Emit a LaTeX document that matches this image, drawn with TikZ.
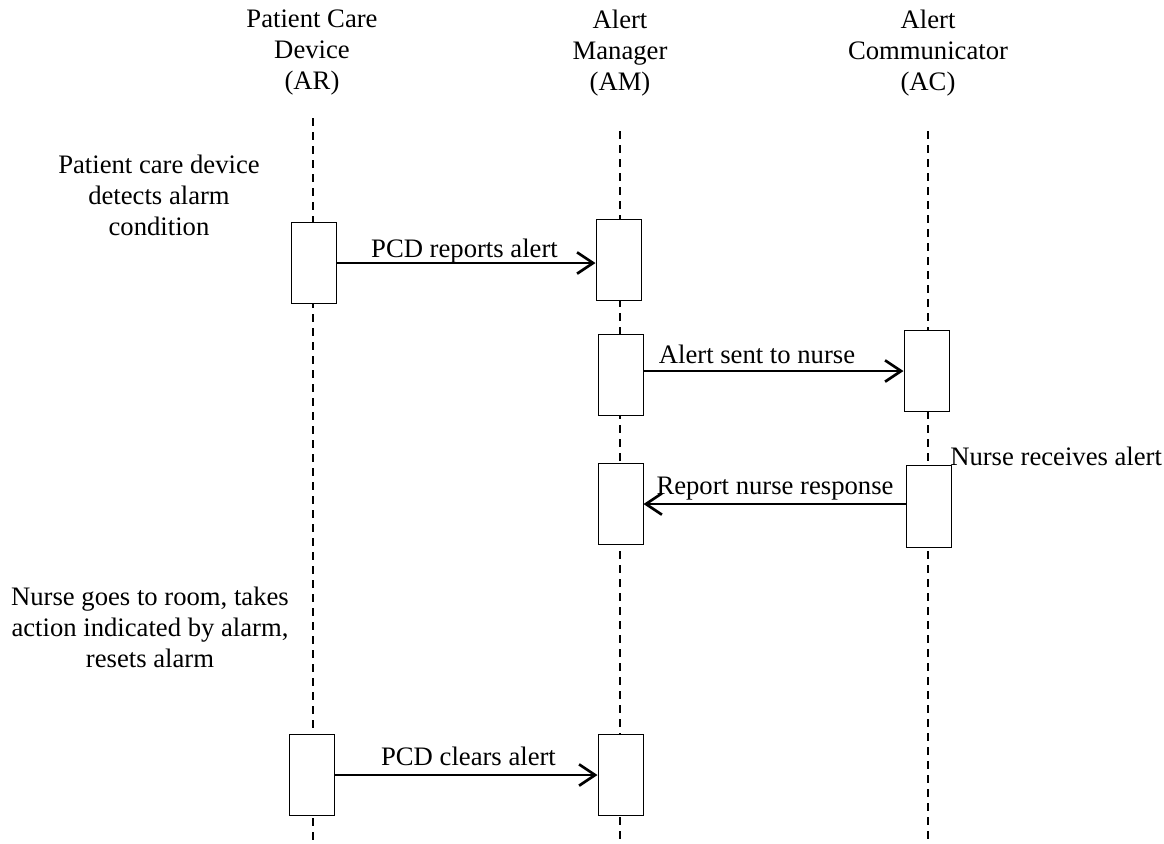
\documentclass[tikz,border=0pt]{standalone}
\usepackage{fontspec}
\setmainfont{Liberation Serif}
\usetikzlibrary{arrows.meta}

\begin{document}
\begin{tikzpicture}[x=0.75pt,y=0.75pt,yscale=-1,xscale=1,
	txt/.style={font=\fontsize{20}{23.25}\selectfont, inner sep=0pt},
	actbox/.style={draw, fill=white, line width=0.75pt, minimum width=33.75pt, minimum height=61pt, inner sep=0pt},
	msg/.style={line width=2pt, -{Straight Barb[length=12pt,width=16pt,line width=2pt]}},
	life/.style={dash pattern=on 6pt off 4.5pt, line width=1.3pt}]
	\useasboundingbox (0,0) rectangle (1164,843);
	
	%Lifeline heads
	\node[txt, anchor=north, align=center] (hAR) at (312,10) {Patient Care\\Device\\(AR)};
	\node[txt, anchor=north, align=center] (hAM) at (620,10) {Alert\\Manager\\(AM)};
	\node[txt, anchor=north, align=center] (hAC) at (928,10) {Alert\\Communicator\\(AC)};
	
	%Lifelines
	\coordinate (ARtop) at (313,118);
	\coordinate (ARbot) at (313,843);
	\coordinate (AMtop) at (620,131);
	\coordinate (AMbot) at (620,843);
	\coordinate (ACtop) at (928,131);
	\coordinate (ACbot) at (928,843);
	\draw[life] (ARtop) -- (ARbot);
	\draw[life] (AMtop) -- (AMbot);
	\draw[life] (ACtop) -- (ACbot);
	
	%Activation boxes
	\node[actbox] (AR1) at (313.5,263) {};
	\node[actbox] (AM1) at (618.5,260) {};
	\node[actbox] (AM2) at (620.5,375) {};
	\node[actbox] (AC1) at (926.5,371) {};
	\node[actbox] (AM3) at (620.5,504) {};
	\node[actbox] (AC2) at (929,506.5) {};
	\node[actbox] (AR2) at (311.5,775) {};
	\node[actbox] (AM4) at (620.5,775) {};
	
	%Messages
	\draw[msg] (AR1.east) -- (AR1.east -| AM1.west);
	\draw[msg] (AC1.west -| AM2.east) -- (AC1.west);
	\draw[msg] (AM3.east -| AC2.west) -- (AM3.east);
	\draw[msg] (AR2.east) -- (AR2.east -| AM4.west);
	
	% Text Node
	\node[txt, anchor=base] (m1) at (464.5,257) {PCD reports alert};
	% Text Node
	\node[txt, anchor=base] (m2) at (757,363) {Alert sent to nurse};
	% Text Node
	\node[txt, anchor=base] (m3) at (775,494) {Report nurse response};
	% Text Node
	\node[txt, anchor=base] (m4) at (468.5,765) {PCD clears alert};
	
	% Text Node
	\node[txt, anchor=north, align=center] (n1) at (159,155) {Patient care device\\detects alarm\\condition};
	% Text Node
	\node[txt, anchor=base west] (n2) at (950,465) {Nurse receives alert};
	% Text Node
	\node[txt, anchor=north, align=center] (n3) at (150,587) {Nurse goes to room, takes\\action indicated by alarm,\\resets alarm};
	
\end{tikzpicture}
\end{document}
